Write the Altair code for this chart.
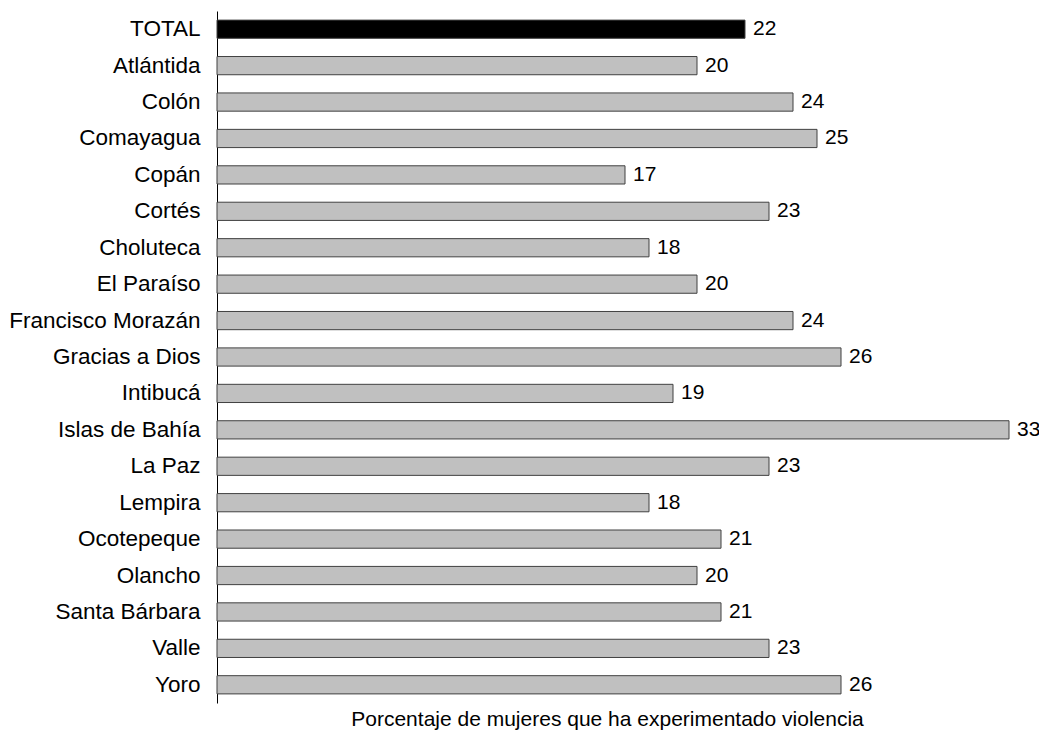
import altair as alt
import pandas as pd

departamentos = ["TOTAL", "Atlántida", "Colón", "Comayagua", "Copán", "Cortés",
                 "Choluteca", "El Paraíso", "Francisco Morazán", "Gracias a Dios",
                 "Intibucá", "Islas de Bahía", "La Paz", "Lempira", "Ocotepeque",
                 "Olancho", "Santa Bárbara", "Valle", "Yoro"]
valores = [22, 20, 24, 25, 17, 23, 18, 20, 24, 26, 19, 33, 23, 18, 21, 20, 21, 23, 26]
grupo = ["total"] + ["dep"] * (len(departamentos) - 1)

df = pd.DataFrame({"dep": departamentos, "val": valores, "grupo": grupo})

FONT = "Liberation Sans"
W = 780
H = 692
PX_PER_UNIT = 24.0
xmax = W / PX_PER_UNIT

x = alt.X("val:Q", scale=alt.Scale(domain=[0, xmax], nice=False, zero=True),
          axis=alt.Axis(title="Porcentaje de mujeres que ha experimentado violencia",
                        labels=False, ticks=False, domain=False, grid=False,
                        titleFont=FONT, titleFontSize=21, titleFontWeight="normal",
                        titleColor="black", titlePadding=5))
y = alt.Y("dep:N", sort=departamentos,
          scale=alt.Scale(paddingInner=0.5, paddingOuter=0.25),
          axis=alt.Axis(title=None, ticks=False, domain=True, domainColor="black",
                        domainWidth=1, labelFont=FONT, labelFontSize=22.5,
                        labelColor="black", labelPadding=17, labelLimit=400))

bars = alt.Chart(df).mark_bar(stroke="#404040", strokeWidth=1).encode(
    x=x, y=y,
    color=alt.Color("grupo:N", scale=alt.Scale(domain=["total", "dep"],
                                                 range=["#000000", "#c0c0c0"]),
                    legend=None),
)

labels = alt.Chart(df).mark_text(align="left", baseline="middle", dx=8,
                                 font=FONT, fontSize=21, color="black").encode(
    x="val:Q", y=alt.Y("dep:N", sort=departamentos), text="val:Q")

chart = (bars + labels).properties(
    width=W, height=H,
    autosize=alt.AutoSizeParams(type="none"),
    padding={"left": 209, "top": 3, "right": 42, "bottom": 28},
).configure(background="white").configure_view(stroke=None, strokeWidth=0)

chart.save("out.html", embed_options={"renderer": "svg", "actions": False})
